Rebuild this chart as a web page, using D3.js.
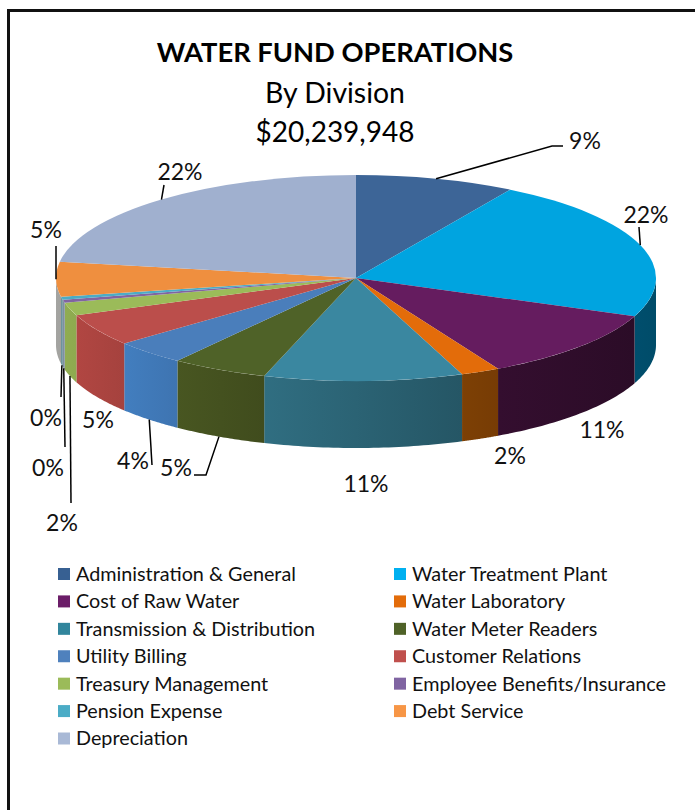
<!DOCTYPE html>
<html>
<head>
<meta charset="utf-8">
<script src="https://cdn.jsdelivr.net/npm/d3@7"></script>
<style>
  html, body { margin: 0; padding: 0; background: #fff; }
  svg { display: block; font-family: Lato, "Open Sans", sans-serif; }
</style>
</head>
<body>
<svg id="chart" width="695" height="810"></svg>
<script>
// Budget by division, in dollars, clockwise from twelve o'clock.
const divisions = [
  "Administration & General", "Water Treatment Plant", "Cost of Raw Water",
  "Water Laboratory", "Transmission & Distribution", "Water Meter Readers",
  "Utility Billing", "Customer Relations", "Treasury Management",
  "Employee Benefits/Insurance", "Pension Expense", "Debt Service", "Depreciation"
];
const budget = [
  1740636, 4543868, 2246634, 425040, 2165674, 1052477, 789358,
  1022117, 414923, 91080, 99175, 1103077, 4545889
];
const topColors = [
  "#3d6597", "#00a4e0", "#651c5f", "#e36c0a", "#3a87a0", "#4f6228", "#4a7ebb",
  "#bb4e4b", "#9bbb59", "#8064a2", "#4bacc6", "#ef8f3f", "#a0b0cf"
];
const wallColors = [
  "#2c4a70", "#004d6b", "#2f0d2b", "#7a3e05", "#2a6172", "#44511f", "#4079b8",
  "#ab4440", "#8fab50", "#7f8fa0", "#6e929c", "#a3a3a0", "#8090a8"
];
const legendColors = [
  "#376092", "#00b0f0", "#6b1d68", "#e36c0a", "#31859c", "#4f6228", "#4f81bd",
  "#c0504d", "#9bbb59", "#8064a2", "#4bacc6", "#f79646", "#a9b9d6"
];

// Label centres and leader bends, in the same order as the divisions.
const labelAt = [
  [585, 141], [646, 215], [602, 430], [510, 456], [366, 484], [176, 468], [133, 461],
  [98, 420], [62, 523], [48, 468], [46, 418], [46, 230], [180, 172]
];
const leaderBends = [
  [[552, 146], [563, 146]], [[639, 227]], null, null, null,
  [[206, 475], [194, 475]], [[152, 465]], null,
  [[71, 503]], [[65, 447]], [[61, 397]], [[56, 246]], [[164, 185]]
];
// Leaders leave the upper rim for these divisions and the lower rim for the rest.
const rimLeaders = new Set([0, 1, 11, 12]);

const cx = 356, cy = 278, rx = 300, ry = 103, depth = 67;
const total = d3.sum(budget);
const svg = d3.select("#chart");

// Frame lines along the top and left of the sheet.
svg.append("path").attr("d", d3.line()([[8.5, 810], [8.5, 10.5], [695, 10.5]]))
  .attr("fill", "none").attr("stroke", "#111").attr("stroke-width", 3);

// Headings
const headings = [
  { text: "WATER FUND OPERATIONS", y: 52, weight: 700, size: 27.3 },
  { text: "By Division", y: 93, weight: 400, size: 28.4 },
  { text: d3.format("$,")(total), y: 132, weight: 400, size: 28 }
];
svg.append("g").selectAll("text").data(headings).join("text")
  .attr("x", 335).attr("y", d => d.y).attr("dy", "0.35em")
  .attr("text-anchor", "middle").attr("fill", "#000")
  .attr("font-size", d => d.size).attr("font-weight", d => d.weight).text(d => d.text);

const arcs = d3.pie().sort(null).value(d => d)(budget);
const onRim = (a, drop) => [cx + rx * Math.sin(a), cy - ry * Math.cos(a) + drop];

// Walls of the near half of the pie; wider walls get a stronger left-to-right shade.
const defs = svg.append("defs");
const nearFrom = Math.PI / 2, nearTo = 3 * Math.PI / 2;
const walls = svg.append("g");
arcs.forEach((arc, i) => {
  const a0 = Math.max(arc.startAngle, nearFrom), a1 = Math.min(arc.endAngle, nearTo);
  if (a1 <= a0) return;
  const steps = d3.range(0, 41).map(k => a0 + (a1 - a0) * k / 40);
  const upper = steps.map(a => onRim(a, 0));
  const lower = steps.slice().reverse().map(a => onRim(a, depth));
  const [xMin, xMax] = d3.extent(upper, p => p[0]);
  const shade = Math.min(0.35, (xMax - xMin) / 500);
  const id = "wall" + i;
  const grad = defs.append("linearGradient").attr("id", id)
    .attr("gradientUnits", "userSpaceOnUse")
    .attr("x1", xMin).attr("x2", xMax).attr("y1", 0).attr("y2", 0);
  grad.append("stop").attr("offset", 0).attr("stop-color", d3.color(wallColors[i]).brighter(shade));
  grad.append("stop").attr("offset", 1).attr("stop-color", d3.color(wallColors[i]).darker(shade));
  walls.append("path").attr("d", d3.line()(upper.concat(lower)) + "Z").attr("fill", `url(#${id})`);
});

// Upper faces, an arc squashed into an ellipse.
const faceArc = d3.arc().innerRadius(0).outerRadius(rx);
svg.append("g").attr("transform", `translate(${cx},${cy}) scale(1,${ry / rx})`)
  .selectAll("path").data(arcs).join("path")
  .attr("d", faceArc).attr("fill", (d, i) => topColors[i]);

// Leader lines
const midAngle = d => (d.startAngle + d.endAngle) / 2;
svg.append("g").selectAll("path").data(arcs).join("path")
  .attr("d", (d, i) => {
    if (!leaderBends[i]) return null;
    const start = onRim(midAngle(d), rimLeaders.has(i) ? 0 : depth);
    return d3.line()([start, ...leaderBends[i]]);
  })
  .attr("fill", "none").attr("stroke", "#000").attr("stroke-width", 1.5);

// Percentage labels
const pct = d3.format(".0%");
svg.append("g").selectAll("text").data(budget).join("text")
  .attr("x", (d, i) => labelAt[i][0]).attr("y", (d, i) => labelAt[i][1])
  .attr("dy", "0.35em").attr("text-anchor", "middle")
  .attr("font-size", 23).attr("fill", "#111").text(d => pct(d / total));

// Legend: two columns, filled row by row.
const legendX = d3.scalePoint().domain([0, 1]).range([58, 394]);
const legendY = d3.scaleLinear().domain([0, 6]).range([574, 738.5]);
const legend = svg.append("g").selectAll("g").data(divisions).join("g")
  .attr("transform", (d, i) => `translate(${legendX(i % 2)},${legendY(Math.floor(i / 2))})`);
legend.append("rect").attr("x", 0).attr("y", -6).attr("width", 12).attr("height", 12)
  .attr("fill", (d, i) => legendColors[i]);
legend.append("text").attr("x", 18).attr("dy", "0.35em").attr("font-size", 19.8)
  .attr("fill", "#111").text(d => d);
</script>
</body>
</html>
